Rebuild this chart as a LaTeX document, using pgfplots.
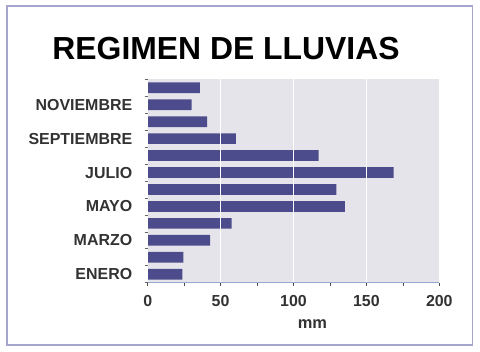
\documentclass[border=0pt]{standalone}
\usepackage{fontspec}
\setmainfont{Liberation Sans}
\usepackage{pgfplots}
\pgfplotsset{compat=1.18}
\definecolor{barfill}{RGB}{76,76,140}
\definecolor{bgplot}{RGB}{228,228,234}
\definecolor{frame}{RGB}{165,165,205}
\definecolor{lbl}{RGB}{50,50,50}
\definecolor{axline}{RGB}{150,170,210}
\begin{document}
\begin{tikzpicture}
\path[fill=white] (0,0) rectangle (480bp,352bp);
\draw[frame, line width=1.2bp] (7bp,7bp) rectangle (472.5bp,346bp);
\node[anchor=base, font=\fontsize{32}{32}\selectfont\bfseries, text=black, inner sep=0pt] at (226bp,292.5bp) {REGIMEN DE LLUVIAS};
\begin{axis}[
  at={(147.7bp,69.3bp)}, anchor=south west,
  scale only axis, width=291.6bp, height=203.4bp,
  xbar, bar width=10.7bp,
  xmin=0, xmax=200, ymin=0.5, ymax=12.5,
  axis background/.style={fill=bgplot},
  axis on top,
  axis x line*=bottom, axis y line*=left,
  x axis line style={draw=axline, line width=0.8bp, -},
  y axis line style={draw=none},
  xtick={0,50,100,150,200},
  minor xtick={25,75,125,175},
  xmajorgrids, major x grid style={white, line width=1bp},
  tick align=outside,
  major tick length=3bp, minor tick length=3bp,
  every tick/.style={black!70, line width=0.6bp},
  ytick={1,3,5,7,9,11},
  yticklabels={ENERO,MARZO,MAYO,JULIO,SEPTIEMBRE,NOVIEMBRE},
  minor ytick={0.5,1.5,...,12.5},
  major y tick style={draw=none},
  minor y tick style={black!60, line width=0.6bp},
  ticklabel style={font=\fontsize{16}{16}\selectfont\bfseries, text=lbl},
  yticklabel style={xshift=-9bp},
  xticklabel style={yshift=-6bp},
  /pgf/number format/assume math mode=true,
  xlabel={mm},
  xlabel style={at={(rel axis cs:0.565,0)}, anchor=base, yshift=-45.3bp, font=\fontsize{16.5}{16.5}\selectfont\bfseries, text=lbl},
  clip=false,
]
\addplot[fill=barfill, draw=none] coordinates {
(23.7,1) (24.4,2) (42.9,3) (57.5,4) (135.3,5) (129.4,6)
(168.7,7) (117.3,8) (60.5,9) (40.8,10) (30.1,11) (35.8,12)
};
\end{axis}
\end{tikzpicture}
\end{document}
